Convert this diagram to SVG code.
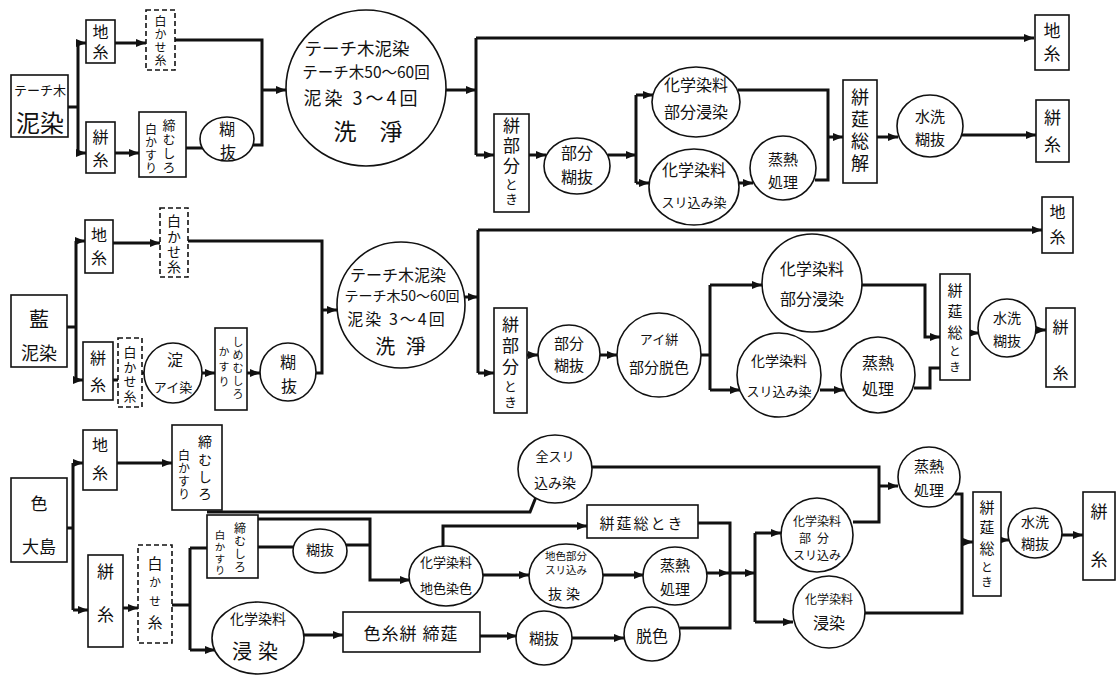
<svg xmlns="http://www.w3.org/2000/svg" width="1116" height="675" viewBox="0 0 1116 675">
<style>
.b{fill:#fff;stroke:#111;stroke-width:1.6}
.d{fill:#fff;stroke:#111;stroke-width:1.6;stroke-dasharray:5,3}
.c{fill:#fff;stroke:#111;stroke-width:1.6}
.w{fill:none;stroke:#111;stroke-width:3}
.a{marker-end:url(#ar)}
text{font-family:"Noto Sans CJK JP","Noto Sans",sans-serif;fill:#111;text-anchor:middle;dominant-baseline:central}
text.v{writing-mode:vertical-rl;text-anchor:start}
</style>
<defs>
<marker id="ar" markerUnits="userSpaceOnUse" markerWidth="10" markerHeight="8" refX="10" refY="4" orient="auto"><path d="M0,0 L10,4 L0,8 z" fill="#111"/></marker>
</defs>
<rect width="1116" height="675" fill="#fff"/>
<g id="connectors">
<path class="w" d="M68,107 H78 M78,43 V153"/>
<path class="w a" d="M78,43 H86"/>
<path class="w a" d="M78,153 H86"/>
<path class="w a" d="M115,43 H146"/>
<path class="w a" d="M115,153 H139"/>
<path class="w" d="M186,148 H205"/>
<path class="w" d="M175,40 H262 V145 H253"/>
<path class="w a" d="M262,90 H286"/>
<path class="w a" d="M446,90 H476"/>
<path class="w" d="M476,38 V155"/>
<path class="w a" d="M476,38 H1034"/>
<path class="w a" d="M476,155 H494"/>
<path class="w a" d="M529,155 H546"/>
<path class="w a" d="M608,155 H636"/>
<path class="w" d="M636,95 V183"/>
<path class="w a" d="M636,95 H653"/>
<path class="w a" d="M636,183 H649"/>
<path class="w a" d="M739,183 H753"/>
<path class="w" d="M738,90 H828 V180 H815"/>
<path class="w a" d="M828,137 H843"/>
<path class="w a" d="M877,137 H898"/>
<path class="w a" d="M961,135 H1036"/>

<path class="w" d="M67,327 H76 M76,241 V380"/>
<path class="w a" d="M76,241 H85"/>
<path class="w a" d="M76,380 H83"/>
<path class="w a" d="M113,243 H160"/>
<path class="w" d="M113,380 H118 M142,373 H145"/>
<path class="w" d="M188,241 H322 V373 H316"/>
<path class="w a" d="M322,310 H337"/>
<path class="w a" d="M202,373 H215"/>
<path class="w a" d="M247,373 H260"/>
<path class="w a" d="M465,297 H478"/>
<path class="w" d="M478,230 V373"/>
<path class="w a" d="M478,230 H1042"/>
<path class="w a" d="M478,373 H494"/>
<path class="w a" d="M527,355 H538"/>
<path class="w a" d="M600,355 H617"/>
<path class="w" d="M701,355 H710 M710,285 V390"/>
<path class="w a" d="M710,285 H762"/>
<path class="w a" d="M710,390 H740"/>
<path class="w a" d="M820,390 H844"/>
<path class="w a" d="M862,285 H925 V337 H940"/>
<path class="w" d="M914,388 H930 V368 H940"/>
<path class="w a" d="M970,333 H979"/>
<path class="w a" d="M1036,330 H1046"/>

<path class="w" d="M67,528 H73 M73,463 V610"/>
<path class="w a" d="M73,463 H83"/>
<path class="w a" d="M73,610 H88"/>
<path class="w a" d="M117,463 H172"/>
<path class="w a" d="M123,608 H138"/>
<path class="w" d="M172,605 H190 M190,548 V650 M190,548 H207"/>
<path class="w a" d="M190,650 H215"/>
<path class="w a" d="M303,635 H343"/>
<path class="w a" d="M480,636 H517"/>
<path class="w a" d="M572,638 H624"/>
<path class="w" d="M680,628 H730 V523 H698"/>
<path class="w a" d="M707,573 H729"/>
<path class="w a" d="M731,573 H755"/>
<path class="w" d="M755,533 V622"/>
<path class="w a" d="M755,533 H781"/>
<path class="w a" d="M755,622 H793"/>
<path class="w" d="M591,467 H879 V522 H853"/>
<path class="w a" d="M879,486 H898"/>
<path class="w" d="M955,494 H962 V613 H865"/>
<path class="w a" d="M962,542 H973"/>
<path class="w a" d="M1001,540 H1009"/>
<path class="w a" d="M1062,535 H1083"/>
<path class="w" d="M207,512 H530 L536,497"/>
<path class="w a" d="M258,519 H370 V580 H410"/>
<path class="w" d="M258,547 H294 M346,545 H370"/>
<path class="w a" d="M443,547 V526 H587"/>
<path class="w a" d="M483,575 H529"/>
<path class="w a" d="M603,575 H644"/>
</g>

<!-- Section 1 -->
<g id="s1-start"><rect class="b" x="11" y="75" width="57" height="62"/><text x="40" y="89" font-size="13">テーチ木</text><text x="40" y="121" font-size="24">泥染</text></g>
<g id="s1-jiito"><rect class="b" x="86" y="20" width="29" height="43"/><text class="v" x="100.5" y="24" font-size="16" letter-spacing="4">地糸</text></g>
<g id="s1-shirokase"><rect class="d" x="146" y="10" width="29" height="60"/><text class="v" x="160.5" y="15" font-size="12" letter-spacing="1">白かせ糸</text></g>
<g id="s1-kasuri"><rect class="b" x="86" y="122" width="29" height="51"/><text class="v" x="100.5" y="129" font-size="16" letter-spacing="7">絣糸</text></g>
<g id="s1-shime"><rect class="b" x="139" y="112" width="47" height="65"/><text class="v" x="169" y="118.5" font-size="13" letter-spacing="1">締むしろ</text><text class="v" x="151" y="123" font-size="12" letter-spacing="1">白かすり</text></g>
<g id="s1-norinuki"><ellipse class="c" cx="227" cy="139" rx="27" ry="22"/><text x="227" y="128" font-size="16">糊</text><text x="228" y="151" font-size="16">抜</text></g>
<g id="s1-main"><ellipse class="c" cx="366" cy="88" rx="80" ry="78"/><text x="357" y="47" font-size="17.5">テーチ木泥染</text><text x="366" y="71" font-size="15.5">テーチ木50～60回</text><text x="362" y="97" font-size="18" letter-spacing="3">泥染 3～4回</text><text x="368" y="130" font-size="23">洗　淨</text></g>
<g id="s1-bubuntoki"><rect class="b" x="494" y="114" width="35" height="98"/><text class="v" x="511.5" y="117.5"><tspan font-size="17" letter-spacing="3">絣部分</tspan><tspan font-size="13" letter-spacing="2">とき</tspan></text></g>
<g id="s1-bubunnori"><ellipse class="c" cx="577" cy="166" rx="33" ry="28"/><text x="577" y="152" font-size="16">部分</text><text x="577" y="176" font-size="16">糊抜</text></g>
<g id="s1-shinsen"><ellipse class="c" cx="696" cy="102" rx="44" ry="35"/><text x="696" y="84" font-size="16">化学染料</text><text x="696" y="111" font-size="16">部分浸染</text></g>
<g id="s1-surikomi"><ellipse class="c" cx="694" cy="187" rx="45" ry="38"/><text x="694" y="169" font-size="16">化学染料</text><text x="694" y="201" font-size="13">スリ込み染</text></g>
<g id="s1-jonetsu"><ellipse class="c" cx="783" cy="168" rx="33" ry="32"/><text x="783" y="158" font-size="15">蒸熱</text><text x="783" y="181" font-size="15">処理</text></g>
<g id="s1-kaitoki"><rect class="b" x="843" y="80" width="34" height="103"/><text class="v" x="860" y="88" font-size="18" letter-spacing="4">絣莚総解</text></g>
<g id="s1-suisen"><ellipse class="c" cx="930" cy="126" rx="33" ry="31"/><text x="930" y="115" font-size="15">水洗</text><text x="930" y="138" font-size="15">糊抜</text></g>
<g id="s1-out-jiito"><rect class="b" x="1035" y="15" width="34" height="55"/><text class="v" x="1052" y="22.5" font-size="17" letter-spacing="6">地糸</text></g>
<g id="s1-out-kasuri"><rect class="b" x="1036" y="100" width="33" height="62"/><text class="v" x="1052.5" y="109.5" font-size="17" letter-spacing="10">絣糸</text></g>

<!-- Section 2 -->
<g id="s2-start"><rect class="b" x="11" y="295" width="56" height="72"/><text x="39" y="318" font-size="20">藍</text><text x="39" y="352" font-size="18">泥染</text></g>
<g id="s2-jiito"><rect class="b" x="85" y="220" width="28" height="53"/><text class="v" x="99" y="227" font-size="16" letter-spacing="7">地糸</text></g>
<g id="s2-shirokase"><rect class="d" x="160" y="208" width="28" height="69"/><text class="v" x="174" y="214" font-size="14" letter-spacing="1.3">白かせ糸</text></g>
<g id="s2-kasuri"><rect class="b" x="83" y="342" width="30" height="58"/><text class="v" x="98" y="350" font-size="16" letter-spacing="11">絣糸</text></g>
<g id="s2-shirokase2"><rect class="d" x="118" y="338" width="24" height="69"/><text class="v" x="130" y="345.5" font-size="13" letter-spacing="1.7">白かせ糸</text></g>
<g id="s2-aizome"><ellipse class="c" cx="173" cy="373" rx="29" ry="30"/><text x="175" y="359" font-size="16">淀</text><text x="173" y="386" font-size="13">アイ染</text></g>
<g id="s2-shime"><rect class="b" x="215" y="328" width="32" height="82"/><text class="v" x="238" y="336.5" font-size="11" letter-spacing="2">しめむしろ</text><text class="v" x="224" y="346.5" font-size="11" letter-spacing="4">かすり</text></g>
<g id="s2-norinuki"><ellipse class="c" cx="288" cy="372" rx="28" ry="29"/><text x="288" y="361" font-size="16">糊</text><text x="289" y="385" font-size="16">抜</text></g>
<g id="s2-main"><ellipse class="c" cx="401" cy="305" rx="64" ry="63"/><text x="398" y="274" font-size="16">テーチ木泥染</text><text x="402" y="295" font-size="14">テーチ木50～60回</text><text x="397" y="318" font-size="16" letter-spacing="2">泥染 3～4回</text><text x="402" y="345" font-size="20" letter-spacing="3">洗 淨</text></g>
<g id="s2-bubuntoki"><rect class="b" x="494" y="308" width="33" height="105"/><text class="v" x="510.5" y="316.5"><tspan font-size="17" letter-spacing="4">絣部分</tspan><tspan font-size="13" letter-spacing="3">とき</tspan></text></g>
<g id="s2-bubunnori"><ellipse class="c" cx="569" cy="354" rx="31" ry="29"/><text x="569" y="342" font-size="15">部分</text><text x="569" y="364" font-size="15">糊抜</text></g>
<g id="s2-dasshoku"><ellipse class="c" cx="659" cy="355" rx="42" ry="42"/><text x="659" y="338" font-size="13">アイ絣</text><text x="659" y="366" font-size="15">部分脱色</text></g>
<g id="s2-shinsen"><ellipse class="c" cx="812" cy="283" rx="50" ry="49"/><text x="812" y="268" font-size="16">化学染料</text><text x="812" y="298" font-size="16">部分浸染</text></g>
<g id="s2-surikomi"><ellipse class="c" cx="779" cy="375" rx="42" ry="42"/><text x="779" y="360" font-size="14">化学染料</text><text x="779" y="390" font-size="13">スリ込み染</text></g>
<g id="s2-jonetsu"><ellipse class="c" cx="878" cy="375" rx="37" ry="38"/><text x="878" y="362" font-size="16">蒸熱</text><text x="878" y="388" font-size="16">処理</text></g>
<g id="s2-kaitoki"><rect class="b" x="940" y="274" width="30" height="106"/><text class="v" x="955" y="282.5"><tspan font-size="15" letter-spacing="6">絣莚総</tspan><tspan font-size="12" letter-spacing="4">とき</tspan></text></g>
<g id="s2-suisen"><ellipse class="c" cx="1007" cy="328" rx="29" ry="29"/><text x="1007" y="317" font-size="14">水洗</text><text x="1007" y="340" font-size="14">糊抜</text></g>
<g id="s2-out-jiito"><rect class="b" x="1042" y="197" width="31" height="56"/><text class="v" x="1057.5" y="204" font-size="16" letter-spacing="9">地糸</text></g>
<g id="s2-out-kasuri"><rect class="b" x="1046" y="308" width="29" height="79"/><text class="v" x="1060.5" y="319" font-size="16" letter-spacing="30">絣糸</text></g>

<!-- Section 3 -->
<g id="s3-start"><rect class="b" x="11" y="478" width="56" height="84"/><text x="39" y="502" font-size="17">色</text><text x="39" y="545" font-size="17">大島</text></g>
<g id="s3-jiito"><rect class="b" x="83" y="430" width="34" height="60"/><text class="v" x="100" y="437" font-size="16" letter-spacing="12">地糸</text></g>
<g id="s3-shime1"><rect class="b" x="172" y="425" width="50" height="85"/><text class="v" x="205" y="435" font-size="14" letter-spacing="3.3">締むしろ</text><text class="v" x="184" y="449" font-size="12" letter-spacing="1">白かすり</text></g>
<g id="s3-kasuri"><rect class="b" x="88" y="555" width="35" height="92"/><text class="v" x="105.5" y="563.5" font-size="17" letter-spacing="26">絣糸</text></g>
<g id="s3-shirokase"><rect class="d" x="138" y="545" width="34" height="98"/><text class="v" x="155" y="555.5"><tspan font-size="15" letter-spacing="5.5">白</tspan><tspan font-size="12" letter-spacing="7">かせ</tspan><tspan font-size="15" letter-spacing="2">糸</tspan></text></g>
<g id="s3-shime2"><rect class="b" x="207" y="515" width="51" height="63"/><text class="v" x="240" y="522" font-size="12" letter-spacing="1.3">締むしろ</text><text class="v" x="220" y="530" font-size="10.5" letter-spacing="1.2">白かすり</text></g>
<g id="s3-norinuki1"><ellipse class="c" cx="320" cy="551" rx="27" ry="22"/><text x="320" y="549" font-size="14">糊抜</text></g>
<g id="s3-shinsen1"><ellipse class="c" cx="258" cy="638" rx="46" ry="36"/><text x="258" y="618" font-size="14">化学染料</text><text x="258" y="650" font-size="20" letter-spacing="6">浸染</text></g>
<g id="s3-irokasuri"><rect class="b" x="343" y="612" width="137" height="40"/><text x="411" y="632" font-size="17" letter-spacing="1">色糸絣 締莚</text></g>
<g id="s3-norinuki2"><ellipse class="c" cx="544" cy="638" rx="28" ry="27"/><text x="544" y="637" font-size="15">糊抜</text></g>
<g id="s3-dasshoku"><ellipse class="c" cx="652" cy="634" rx="28" ry="27"/><text x="652" y="635" font-size="16">脱色</text></g>
<g id="s3-zensurikomi"><ellipse class="c" cx="555" cy="469" rx="37" ry="34"/><text x="555" y="455" font-size="13">全スリ</text><text x="555" y="482" font-size="14">込み染</text></g>
<g id="s3-jishoku"><ellipse class="c" cx="446" cy="576" rx="37" ry="30"/><text x="446" y="561" font-size="13">化学染料</text><text x="446" y="587" font-size="13">地色染色</text></g>
<g id="s3-kaitoki1"><rect class="b" x="587" y="505" width="111" height="33"/><text x="642" y="522" font-size="15" letter-spacing="2">絣莚総とき</text></g>
<g id="s3-bassen"><ellipse class="c" cx="566" cy="576" rx="37" ry="32"/><text x="566" y="555" font-size="10.5">地色部分</text><text x="566" y="569" font-size="10.5">スリ込み</text><text x="566" y="593" font-size="14" letter-spacing="4">抜染</text></g>
<g id="s3-jonetsu1"><ellipse class="c" cx="675" cy="576" rx="32" ry="29"/><text x="675" y="564" font-size="15">蒸熱</text><text x="675" y="588" font-size="15">処理</text></g>
<g id="s3-surikomi"><ellipse class="c" cx="817" cy="535" rx="36" ry="37"/><text x="817" y="520" font-size="12">化学染料</text><text x="817" y="537" font-size="12" letter-spacing="6">部分</text><text x="817" y="554" font-size="12">スリ込み</text></g>
<g id="s3-shinsen2"><ellipse class="c" cx="829" cy="612" rx="36" ry="36"/><text x="829" y="598" font-size="12">化学染料</text><text x="829" y="622" font-size="16">浸染</text></g>
<g id="s3-jonetsu2"><ellipse class="c" cx="929" cy="477" rx="31" ry="30"/><text x="929" y="465" font-size="15">蒸熱</text><text x="929" y="489" font-size="15">処理</text></g>
<g id="s3-kaitoki2"><rect class="b" x="973" y="492" width="28" height="104"/><text class="v" x="987" y="499.5"><tspan font-size="15" letter-spacing="5.5">絣莚総</tspan><tspan font-size="12" letter-spacing="3">とき</tspan></text></g>
<g id="s3-suisen"><ellipse class="c" cx="1035" cy="533" rx="27" ry="25"/><text x="1035" y="521" font-size="14">水洗</text><text x="1035" y="543" font-size="14">糊抜</text></g>
<g id="s3-out-kasuri"><rect class="b" x="1083" y="492" width="32" height="88"/><text class="v" x="1099" y="503.5" font-size="17" letter-spacing="31">絣糸</text></g>
</svg>
